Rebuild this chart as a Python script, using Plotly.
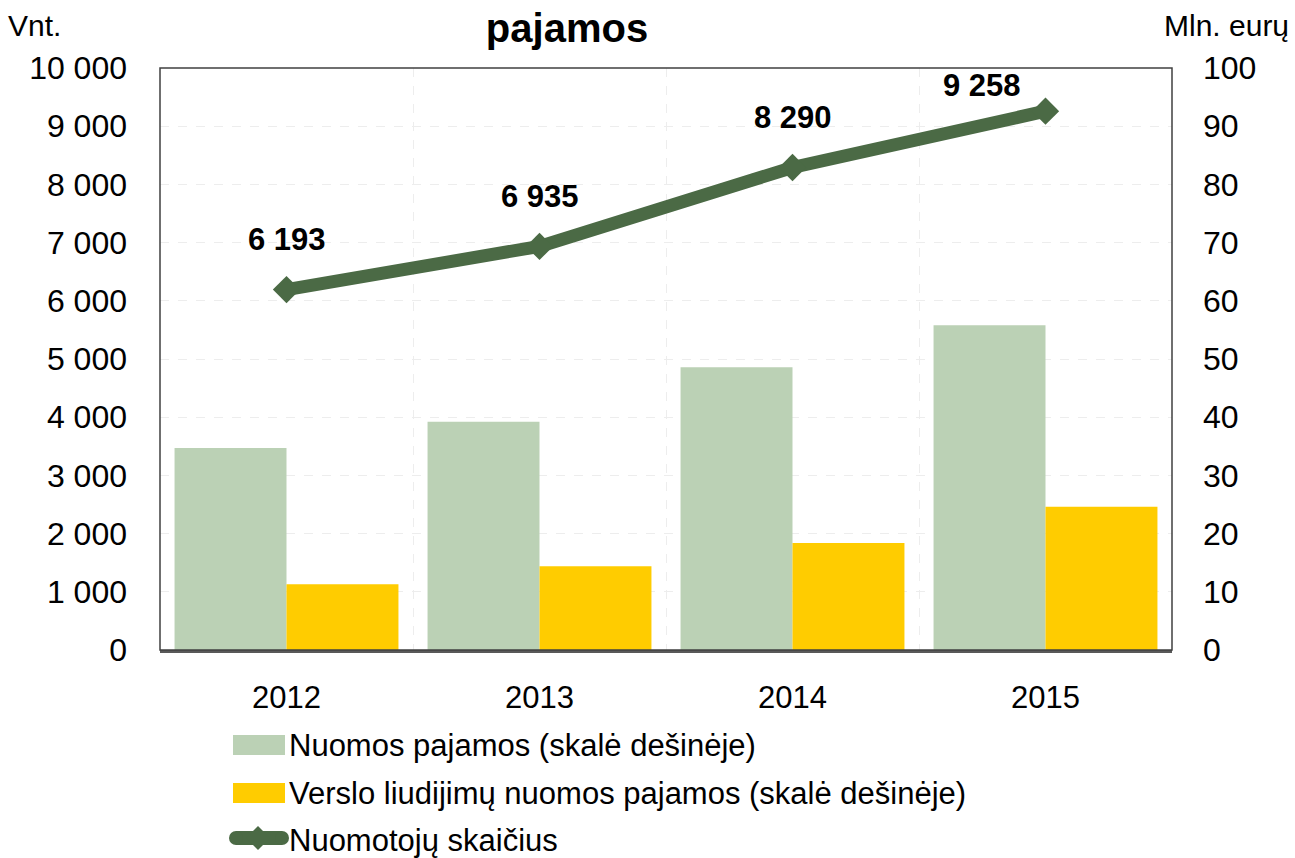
import plotly.graph_objects as go

years = ["2012", "2013", "2014", "2015"]
nuomos_pajamos = [34.7, 39.2, 48.6, 55.8]          # mln. eurų (right scale)
verslo_liud_pajamos = [11.3, 14.4, 18.4, 24.6]     # mln. eurų (right scale)
nuomotoju_skaicius = [6193, 6935, 8290, 9258]      # vnt. (left scale)
left_ticks = [0, 1000, 2000, 3000, 4000, 5000, 6000, 7000, 8000, 9000, 10000]
left_tick_labels = ["0", "1 000", "2 000", "3 000", "4 000", "5 000", "6 000",
                    "7 000", "8 000", "9 000", "10 000"]
right_ticks = [0, 10, 20, 30, 40, 50, 60, 70, 80, 90, 100]

names = ["Nuomos pajamos (skalė dešinėje)",
         "Verslo liudijimų nuomos pajamos (skalė dešinėje)",
         "Nuomotojų skaičius"]

# label offsets (pixels) for the line data labels
label_xshift = [0, 0, 0, -64]
label_yshift = [50, 50, 50, 26]

GREEN_BAR = "#BBD1B5"
YELLOW = "#FFCC00"
DARK_GREEN = "#4B6A45"
GRID = "#EDEDED"
FONT = "Liberation Sans, Arial, sans-serif"

W, H = 1295, 858
L, R, T, B = 160, 1172, 68, 650

def px(x):
    return (x - L) / (R - L)

def py(y):
    return (B - y) / (B - T)

fig = go.Figure()
fig.add_trace(go.Bar(x=years, y=nuomos_pajamos, name=names[0],
                     marker=dict(color=GREEN_BAR, line=dict(width=0)), yaxis="y"))
fig.add_trace(go.Bar(x=years, y=verslo_liud_pajamos, name=names[1],
                     marker=dict(color=YELLOW, line=dict(width=0)), yaxis="y"))
fig.add_trace(go.Scatter(x=years, y=nuomotoju_skaicius, name=names[2], mode="lines+markers",
                         line=dict(color=DARK_GREEN, width=13),
                         marker=dict(symbol="diamond", size=21, color=DARK_GREEN),
                         yaxis="y2", cliponaxis=False))

annotations = []
for i, v in enumerate(nuomotoju_skaicius):
    annotations.append(dict(x=i, y=v, xref="x", yref="y2",
                            text="<b>" + f"{v:,}".replace(",", " ") + "</b>",
                            showarrow=False, xshift=label_xshift[i], yshift=label_yshift[i],
                            font=dict(family=FONT, size=31, color="#000000")))

annotations.append(dict(x=px(6), y=py(25), xref="paper", yref="paper", text="Vnt.",
                        showarrow=False, xanchor="left", yanchor="middle",
                        font=dict(family=FONT, size=30, color="#000000")))
annotations.append(dict(x=px(1162), y=py(25), xref="paper", yref="paper", text="Mln. eurų",
                        showarrow=False, xanchor="left", yanchor="middle",
                        font=dict(family=FONT, size=30, color="#000000")))

# manual legend
shapes = []
leg_font = dict(family=FONT, size=31, color="#000000")
shapes.append(dict(type="rect", xref="paper", yref="paper",
                   x0=px(233), x1=px(285), y0=py(755), y1=py(735),
                   fillcolor=GREEN_BAR, line=dict(width=0)))
shapes.append(dict(type="rect", xref="paper", yref="paper",
                   x0=px(233), x1=px(285), y0=py(803), y1=py(783),
                   fillcolor=YELLOW, line=dict(width=0)))
shapes.append(dict(type="line", xref="paper", yref="paper",
                   x0=px(236), x1=px(282), y0=py(838), y1=py(838),
                   line=dict(color=DARK_GREEN, width=14)))
shapes.append(dict(type="circle", xref="paper", yref="paper",
                   x0=px(229), x1=px(243), y0=py(845), y1=py(831),
                   fillcolor=DARK_GREEN, line=dict(width=0)))
shapes.append(dict(type="circle", xref="paper", yref="paper",
                   x0=px(275), x1=px(289), y0=py(845), y1=py(831),
                   fillcolor=DARK_GREEN, line=dict(width=0)))
shapes.append(dict(type="path", xref="paper", yref="paper",
                   path=f"M {px(246)},{py(838)} L {px(258)},{py(826)} L {px(270)},{py(838)} L {px(258)},{py(850)} Z",
                   fillcolor=DARK_GREEN, line=dict(width=0)))
for name, yc in zip(names, [745, 793, 840]):
    annotations.append(dict(x=px(287), y=py(yc), xref="paper", yref="paper", text=name,
                            showarrow=False, xanchor="left", yanchor="middle", font=leg_font))

# plot frame
shapes.append(dict(type="rect", xref="paper", yref="paper", x0=0, x1=1, y0=0, y1=1,
                   line=dict(color="#404040", width=1.5), layer="above"))

fig.update_layout(
    width=W, height=H,
    margin=dict(l=L, r=W - R, t=T, b=H - B, pad=0),
    paper_bgcolor="white", plot_bgcolor="white",
    barmode="group", bargap=0.115, bargroupgap=0,
    showlegend=False,
    title=dict(text="<b>pajamos</b>", x=567 / W, xanchor="center", y=1 - 28 / H, yanchor="middle",
               font=dict(family=FONT, size=40, color="#000000")),
    xaxis=dict(type="category", range=[-0.5, 3.5], tickson="boundaries", showgrid=True,
               gridcolor=GRID, griddash="dash", gridwidth=1, ticks="", showline=True,
               linecolor="#595959", linewidth=3, tickangle=0, automargin=False,
               tickfont=dict(family=FONT, size=31, color="#000000"),
               ticklabelstandoff=18),
    yaxis=dict(side="right", range=[0, 100], tickvals=right_ticks, showgrid=True,
               gridcolor=GRID, griddash="dash", gridwidth=1, zeroline=False,
               ticks="", automargin=False, tickfont=dict(family=FONT, size=32, color="#000000"),
               ticklabelstandoff=30),
    yaxis2=dict(side="left", overlaying="y", range=[0, 10000], tickvals=left_ticks,
                ticktext=left_tick_labels, showgrid=False, zeroline=False, ticks="",
                automargin=False, tickfont=dict(family=FONT, size=32, color="#000000"),
                ticklabelstandoff=32),
    annotations=annotations,
    shapes=shapes,
)

fig.write_html("out.html", config={"displayModeBar": False},
               post_script="document.body.style.margin='0';document.body.style.overflow='hidden';")
